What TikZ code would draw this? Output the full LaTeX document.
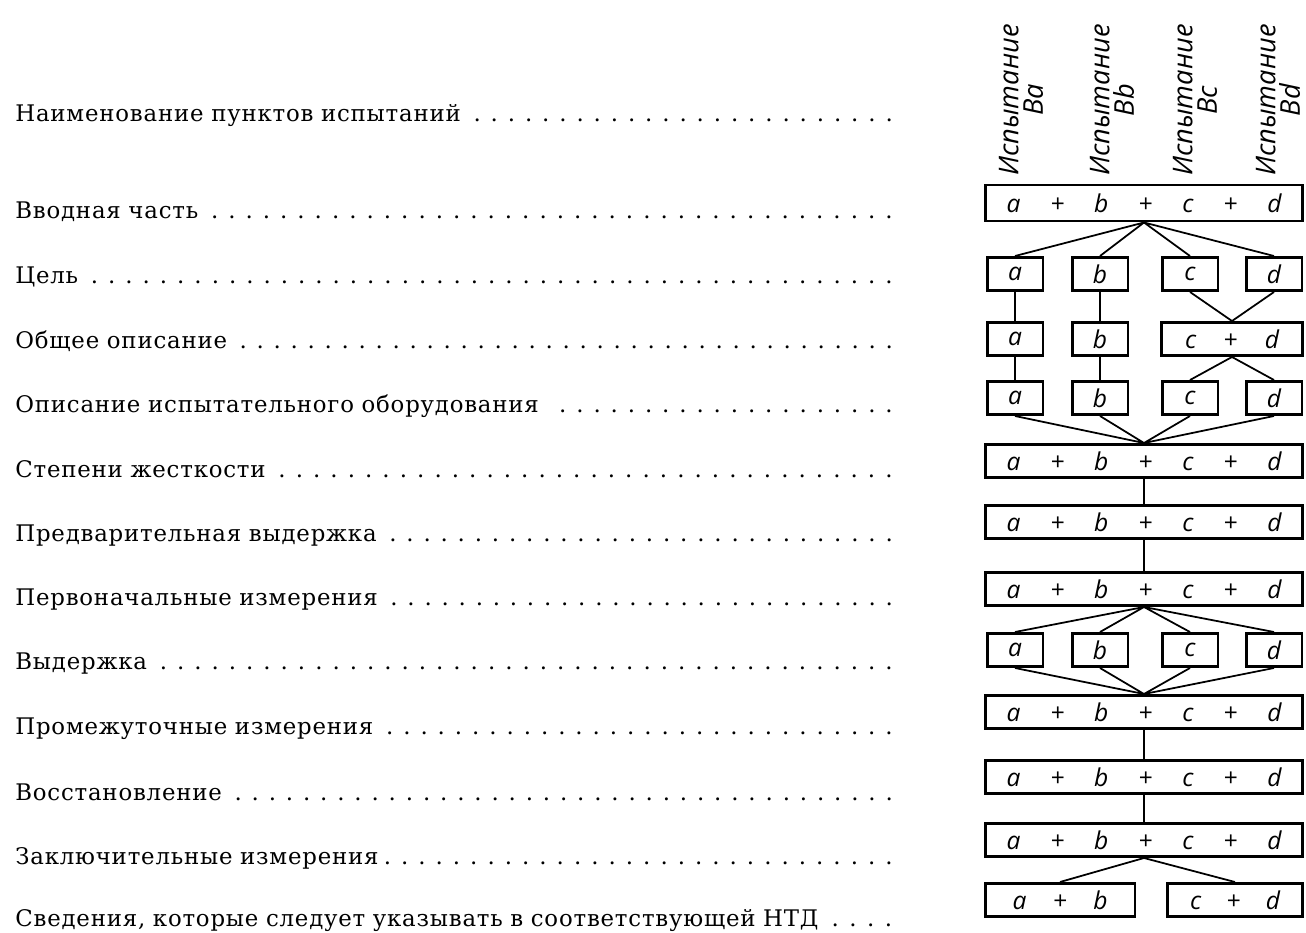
\documentclass[tikz,border=0pt]{standalone}
\usepackage{fontspec}
\setmainfont{DejaVu Serif}[LetterSpace=3.5]
\newfontfamily\gostfont{Open Sans}
\usetikzlibrary{positioning}
\newcommand{\dotleader}{\xleaders\hbox to 0.34cm{\hss.\hss}\hfill\null}

\begin{document}
\begin{tikzpicture}[
    x=0.02cm,y=-0.02cm,
    item/.style={anchor=base west,inner sep=0pt,text width=17.65cm,font=\fontsize{13}{15}\selectfont},
    head/.style={rotate=90,anchor=west,inner sep=0pt,align=center,font=\gostfont\itshape\fontsize{15.5}{14}\selectfont},
    grp/.style={draw,line width=1.7pt,inner sep=0pt,minimum height=0.66cm,font=\gostfont\itshape\fontsize{14}{15}\selectfont},
    wide/.style={grp,minimum width=6.36cm,text width=5.5cm},
    one/.style={grp,minimum width=1.12cm},
    link/.style={line width=1pt}
  ]
    \useasboundingbox (0,0) rectangle (1306,933);

    % left column: items of the test procedure
    \node[item] (l1) at (15,121) {Наименование пунктов испытаний \dotleader};
    \node[item] (l2) at (15,218) {Вводная часть \dotleader};
    \node[item] (l3) at (15,283) {Цель \dotleader};
    \node[item] (l4) at (15,348) {Общее описание \dotleader};
    \node[item] (l5) at (15,412) {Описание испытательного оборудования \ \dotleader};
    \node[item] (l6) at (15,477) {Степени жесткости \dotleader};
    \node[item] (l7) at (15,541) {Предварительная выдержка \dotleader};
    \node[item] (l8) at (15,605) {Первоначальные измерения \dotleader};
    \node[item] (l9) at (15,669) {Выдержка \dotleader};
    \node[item] (l10) at (15,734) {Промежуточные измерения \dotleader};
    \node[item] (l11) at (15,800) {Восстановление \dotleader};
    \node[item] (l12) at (15,864) {Заключительные измерения\dotleader};
    \node[item] (l13) at (15,926) {Сведения, которые следует указывать в соответствующей НТД \dotleader};

    % column heads
    \node[head] (hBa) at (1021,176) {Испытание\\Ba};
    \node[head] (hBb) at (1112,176) {Испытание\\Bb};
    \node[head] (hBc) at (1195,176) {Испытание\\Bc};
    \node[head] (hBd) at (1278,176) {Испытание\\Bd};

    % boxes
    \node[wide,minimum height=0.72cm] (r1) at (1144,203) {a\hfill+\hfill b\hfill+\hfill c\hfill+\hfill d};

    \node[one] (r2a) at (1015,274) {a};
    \node[one] (r2b) at (1100,274) {b};
    \node[one] (r2c) at (1190,274) {c};
    \node[one] (r2d) at (1274,274) {d};

    \node[one] (r3a) at (1015,339) {a};
    \node[one] (r3b) at (1100,339) {b};
    \node[grp,minimum width=2.82cm,text width=1.88cm] (r3cd) at (1232,339) {c\hfill+\hfill d};

    \node[one] (r4a) at (1015,398) {a};
    \node[one] (r4b) at (1100,398) {b};
    \node[one] (r4c) at (1190,398) {c};
    \node[one] (r4d) at (1274,398) {d};

    \node[wide] (r5) at (1144,461) {a\hfill+\hfill b\hfill+\hfill c\hfill+\hfill d};
    \node[wide] (r6) at (1144,522) {a\hfill+\hfill b\hfill+\hfill c\hfill+\hfill d};
    \node[wide] (r7) at (1144,589) {a\hfill+\hfill b\hfill+\hfill c\hfill+\hfill d};

    \node[one] (r8a) at (1015,650) {a};
    \node[one] (r8b) at (1100,650) {b};
    \node[one] (r8c) at (1190,650) {c};
    \node[one] (r8d) at (1274,650) {d};

    \node[wide] (r9) at (1144,712) {a\hfill+\hfill b\hfill+\hfill c\hfill+\hfill d};
    \node[wide] (r10) at (1144,777) {a\hfill+\hfill b\hfill+\hfill c\hfill+\hfill d};
    \node[wide] (r11) at (1144,840) {a\hfill+\hfill b\hfill+\hfill c\hfill+\hfill d};

    \node[grp,minimum width=3.0cm,text width=1.9cm] (r12ab) at (1060,900) {a\hfill+\hfill b};
    \node[grp,minimum width=2.7cm,text width=1.8cm] (r12cd) at (1235,900) {c\hfill+\hfill d};

    % links
    \draw[link] (r1.south) -- (r2a.north) (r1.south) -- (r2b.north)
      (r1.south) -- (r2c.north) (r1.south) -- (r2d.north);
    \draw[link] (r2a) -- (r3a) (r2b) -- (r3b);
    \draw[link] (r2c.south) -- (r3cd.north) (r2d.south) -- (r3cd.north);
    \draw[link] (r3a) -- (r4a) (r3b) -- (r4b);
    \draw[link] (r3cd.south) -- (r4c.north) (r3cd.south) -- (r4d.north);
    \draw[link] (r4a.south) -- (r5.north) (r4b.south) -- (r5.north)
      (r4c.south) -- (r5.north) (r4d.south) -- (r5.north);
    \draw[link] (r5) -- (r6);
    \draw[link] (r6) -- (r7);
    \draw[link] (r7.south) -- (r8a.north) (r7.south) -- (r8b.north)
      (r7.south) -- (r8c.north) (r7.south) -- (r8d.north);
    \draw[link] (r8a.south) -- (r9.north) (r8b.south) -- (r9.north)
      (r8c.south) -- (r9.north) (r8d.south) -- (r9.north);
    \draw[link] (r9) -- (r10);
    \draw[link] (r10) -- (r11);
    \draw[link] (r11.south) -- (r12ab.north) (r11.south) -- (r12cd.north);
  \end{tikzpicture}
\end{document}
